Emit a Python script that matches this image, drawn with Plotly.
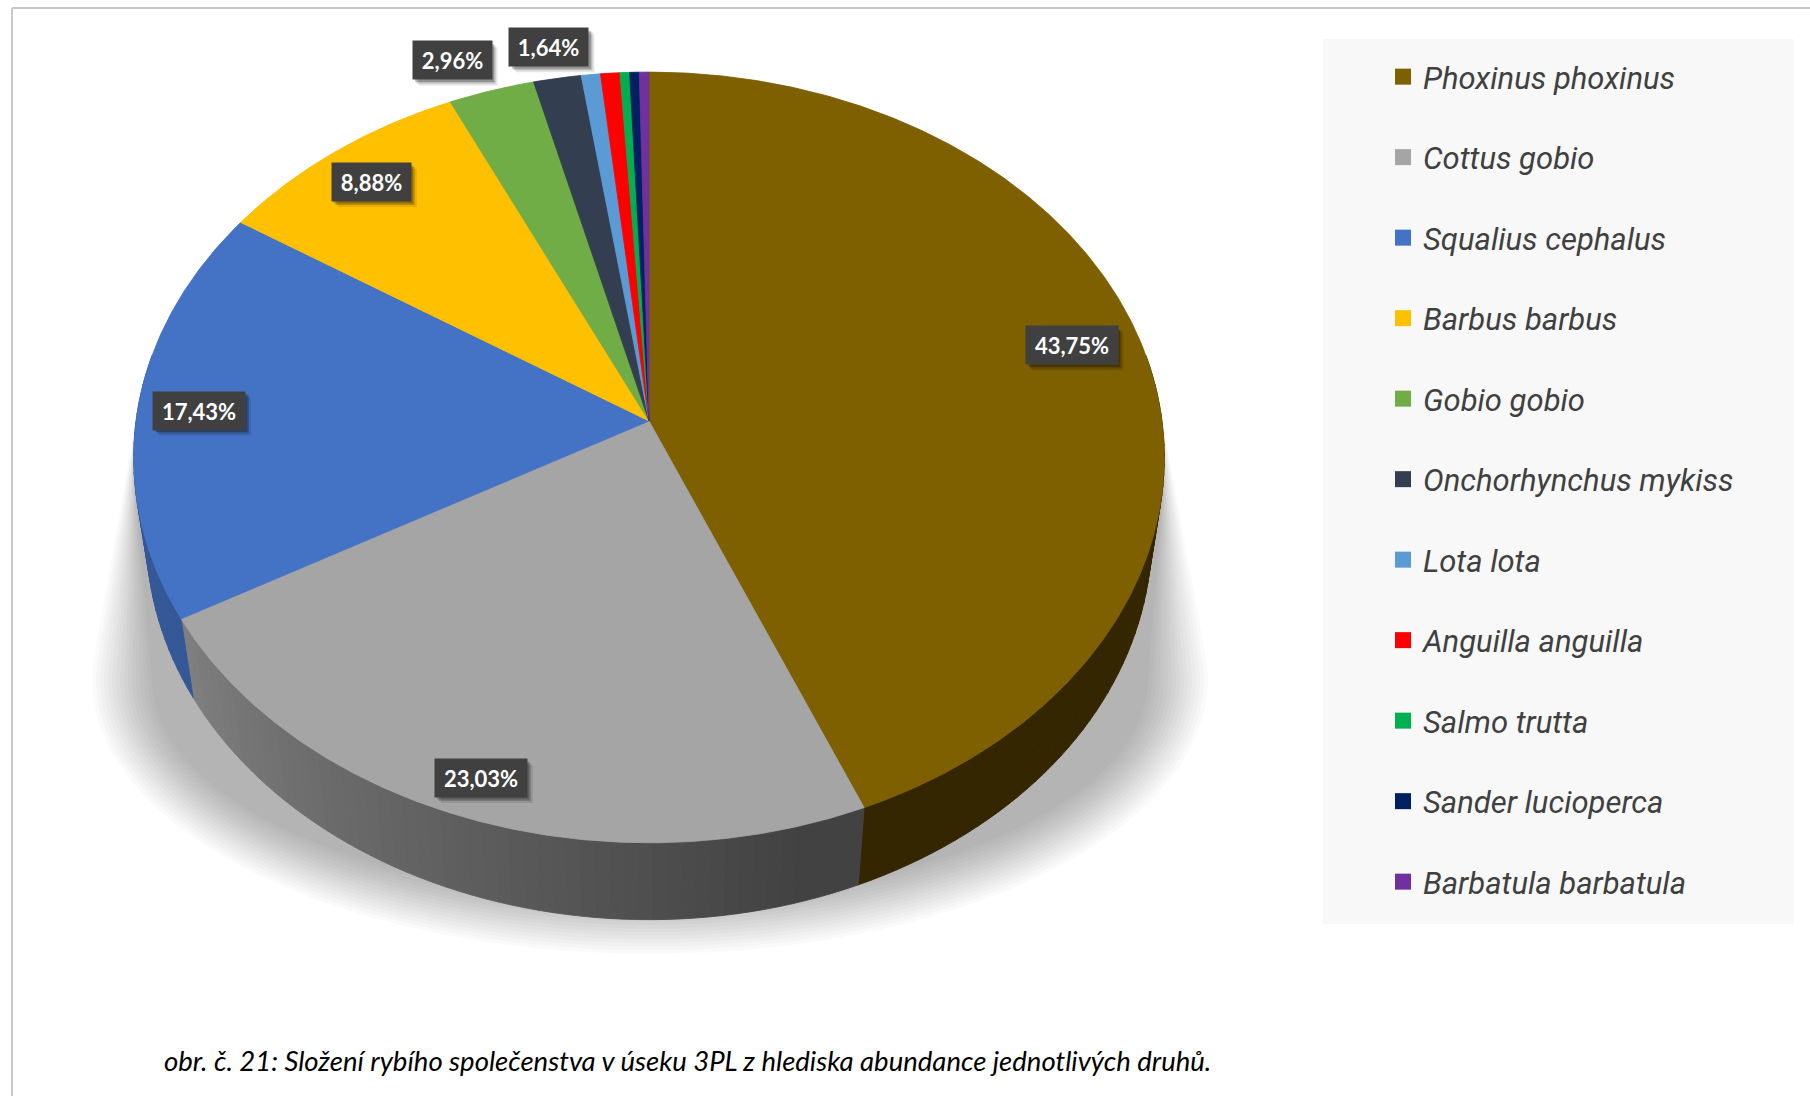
import math
import plotly.graph_objects as go

# --- data -------------------------------------------------------------------
species = [
    "Phoxinus phoxinus", "Cottus gobio", "Squalius cephalus", "Barbus barbus",
    "Gobio gobio", "Onchorhynchus mykiss", "Lota lota", "Anguilla anguilla",
    "Salmo trutta", "Sander lucioperca", "Barbatula barbatula",
]
share_pct = [43.75, 23.03, 17.43, 8.88, 2.96, 1.64, 0.66, 0.66, 0.33, 0.33, 0.33]
colors = [
    "#7f6000", "#a5a5a5", "#4472c4", "#ffc000", "#70ad47", "#333f50",
    "#5b9bd5", "#ff0000", "#00b050", "#002060", "#7030a0",
]
caption = ("obr. č. 21: Složení rybího společenstva v úseku 3PL "
           "z hlediska abundance jednotlivých druhů.")

# --- 3D pie geometry (perspective view of a tilted disc) --------------------
W, H = 1810, 1096
CX, CY = 649, 421          # screen position of the pie centre
FOCAL = 3620.0             # focal length in px
DIST = 7.057               # camera distance in pie radii
SIN_E = 0.7445             # sine of the viewing elevation
COS_E = math.sqrt(1 - SIN_E ** 2)
THICK = 0.24               # pie thickness in radii


def project(X, Y, Z):
    up = Y * SIN_E + Z * COS_E
    depth = DIST + Y * COS_E - Z * SIN_E
    return CX + FOCAL * X / depth, CY - FOCAL * up / depth


def rim(theta_deg, r=1.0, z=0.0):
    t = math.radians(theta_deg)
    return project(r * math.sin(t), r * math.cos(t), z)


def arc(a0, a1, step=0.5, r=1.0, z=0.0):
    n = max(2, int(math.ceil(abs(a1 - a0) / step)) + 1)
    return [rim(a0 + (a1 - a0) * k / (n - 1), r, z) for k in range(n)]


def shade(hex_color, f):
    h = hex_color.lstrip("#")
    r, g, b = (int(h[i:i + 2], 16) for i in (0, 2, 4))
    return "rgb(%d,%d,%d)" % (round(r * f), round(g * f), round(b * f))


def wall_factor(theta):
    # side walls get lighter towards the left of the pie
    if theta <= 165:
        return 0.40
    if theta >= 240:
        return 0.77
    return 0.40 + 0.37 * (theta - 165) / 75


def convex_hull(pts):
    pts = sorted(set(pts))
    if len(pts) < 3:
        return pts

    def cross(o, a, b):
        return (a[0] - o[0]) * (b[1] - o[1]) - (a[1] - o[1]) * (b[0] - o[0])

    lower, upper = [], []
    for p in pts:
        while len(lower) >= 2 and cross(lower[-2], lower[-1], p) <= 0:
            lower.pop()
        lower.append(p)
    for p in reversed(pts):
        while len(upper) >= 2 and cross(upper[-2], upper[-1], p) <= 0:
            upper.pop()
        upper.append(p)
    return lower[:-1] + upper[:-1]


total = sum(share_pct)
bounds = []
acc = 0.0
for v in share_pct:
    a0 = acc / total * 360.0
    acc += v
    bounds.append((a0, acc / total * 360.0))

fig = go.Figure()


def add_poly(pts, fill, line_w=0.8):
    xs = [p[0] for p in pts] + [pts[0][0]]
    ys = [p[1] for p in pts] + [pts[0][1]]
    fig.add_trace(go.Scatter(
        x=xs, y=ys, mode="lines", fill="toself", fillcolor=fill,
        line=dict(color=fill, width=line_w), hoverinfo="skip", showlegend=False,
    ))


# --- soft drop shadow under the pie -----------------------------------------
top_outline = arc(0, 360, step=3)
n_layers = 16
for k in range(n_layers):
    t = k / (n_layers - 1)
    a = 498 + 60 * (1 - t)
    b = 220 + 54 * (1 - t)
    ell = [(650 + a * math.cos(math.radians(d)), 680 + b * math.sin(math.radians(d)))
           for d in range(0, 360, 3)]
    add_poly(convex_hull(top_outline + ell), "rgba(0,0,0,0.021)", line_w=0)

# --- outer side walls (front half only) -------------------------------------
for (a0, a1), col in zip(bounds, colors):
    lo, hi = max(a0, 80.0), min(a1, 280.0)
    if lo >= hi:
        continue
    nseg = int(math.ceil((hi - lo) / 1.5))
    for s in range(nseg):
        ta = lo + (hi - lo) * s / nseg
        tb = lo + (hi - lo) * (s + 1) / nseg
        pts = arc(ta, tb, step=0.5) + arc(tb, ta, step=0.5, z=-THICK)
        add_poly(pts, shade(col, wall_factor((ta + tb) / 2)), line_w=0.9)

# --- top faces ---------------------------------------------------------------
for (a0, a1), col in zip(bounds, colors):
    pts = [project(0, 0, 0)] + arc(a0, a1, step=0.4)
    add_poly(pts, col, line_w=0.8)

# --- legend entries ----------------------------------------------------------
for name, col in zip(species, colors):
    fig.add_trace(go.Scatter(
        x=[None], y=[None], mode="markers", name=name, legendgroup=name,
        marker=dict(symbol="square", size=16, color=col, line=dict(width=0)),
    ))

# --- data labels (dark boxes with a drop shadow) -----------------------------
# small pixel offsets that keep labels clear of each other / the slice edges
label_nudge = {
    "Phoxinus phoxinus": (-13, -11),
    "Cottus gobio": (-9, 12),
    "Gobio gobio": (-25, 0),
}
label_font = dict(family="Lato, Open Sans, sans-serif", size=22, color="white",
                  weight="bold")
annotations = []
shapes = []
for name, v, (a0, a1) in zip(species, share_pct, bounds):
    if v < 1:
        continue
    mid = (a0 + a1) / 2
    r = 0.88 if v >= 5 else 1.1
    lx, ly = rim(mid, r)
    dx, dy = label_nudge.get(name, (0, 0))
    lx, ly = lx + dx, ly + dy
    txt = f"{v:.2f}".replace(".", ",") + "%"
    bw, bh = 13 * len(txt) + 14, 38
    for off, alpha in ((6, 0.10), (4, 0.18), (2.5, 0.22)):
        shapes.append(dict(
            type="rect", xref="x", yref="y", layer="above",
            x0=lx - bw / 2 + off, x1=lx + bw / 2 + off,
            y0=ly - bh / 2 + off, y1=ly + bh / 2 + off,
            fillcolor=f"rgba(0,0,0,{alpha})", line=dict(width=0),
        ))
    annotations.append(dict(
        x=lx, y=ly, xref="x", yref="y", text=txt, showarrow=False,
        width=bw, height=bh, borderpad=0, align="center", valign="middle",
        xanchor="center", yanchor="middle", bgcolor="#404040", font=label_font,
    ))

annotations.append(dict(
    x=162, y=1060, xref="x", yref="y", text=caption, showarrow=False,
    xanchor="left", yanchor="middle",
    font=dict(family="Lato, Open Sans, sans-serif", size=27.5, color="#000000",
              style="italic"),
))

shapes += [
    dict(type="rect", xref="x", yref="y", x0=1323, x1=1794, y0=39, y1=924,
         fillcolor="#f8f8f8", line=dict(width=0), layer="below"),
    dict(type="line", xref="x", yref="y", x0=12, x1=W, y0=8, y1=8,
         line=dict(color="#c8c8c8", width=2)),
    dict(type="line", xref="x", yref="y", x0=12, x1=12, y0=8, y1=H,
         line=dict(color="#c8c8c8", width=2)),
]

fig.update_layout(
    width=W, height=H, autosize=False,
    margin=dict(l=0, r=0, t=0, b=0),
    paper_bgcolor="white", plot_bgcolor="white",
    xaxis=dict(range=[0, W], visible=False, fixedrange=True),
    yaxis=dict(range=[H, 0], visible=False, fixedrange=True),
    showlegend=True,
    legend=dict(
        x=1383 / W, y=1 - 50 / H, xanchor="left", yanchor="top",
        bgcolor="rgba(0,0,0,0)", borderwidth=0, tracegroupgap=37.2,
        font=dict(family="Liberation Sans Narrow, Roboto, Arial, sans-serif",
                  size=31, color="#404040", style="italic"),
    ),
    annotations=annotations,
    shapes=shapes,
)

fig.write_html("out.html", post_script="document.body.style.margin='0';")
